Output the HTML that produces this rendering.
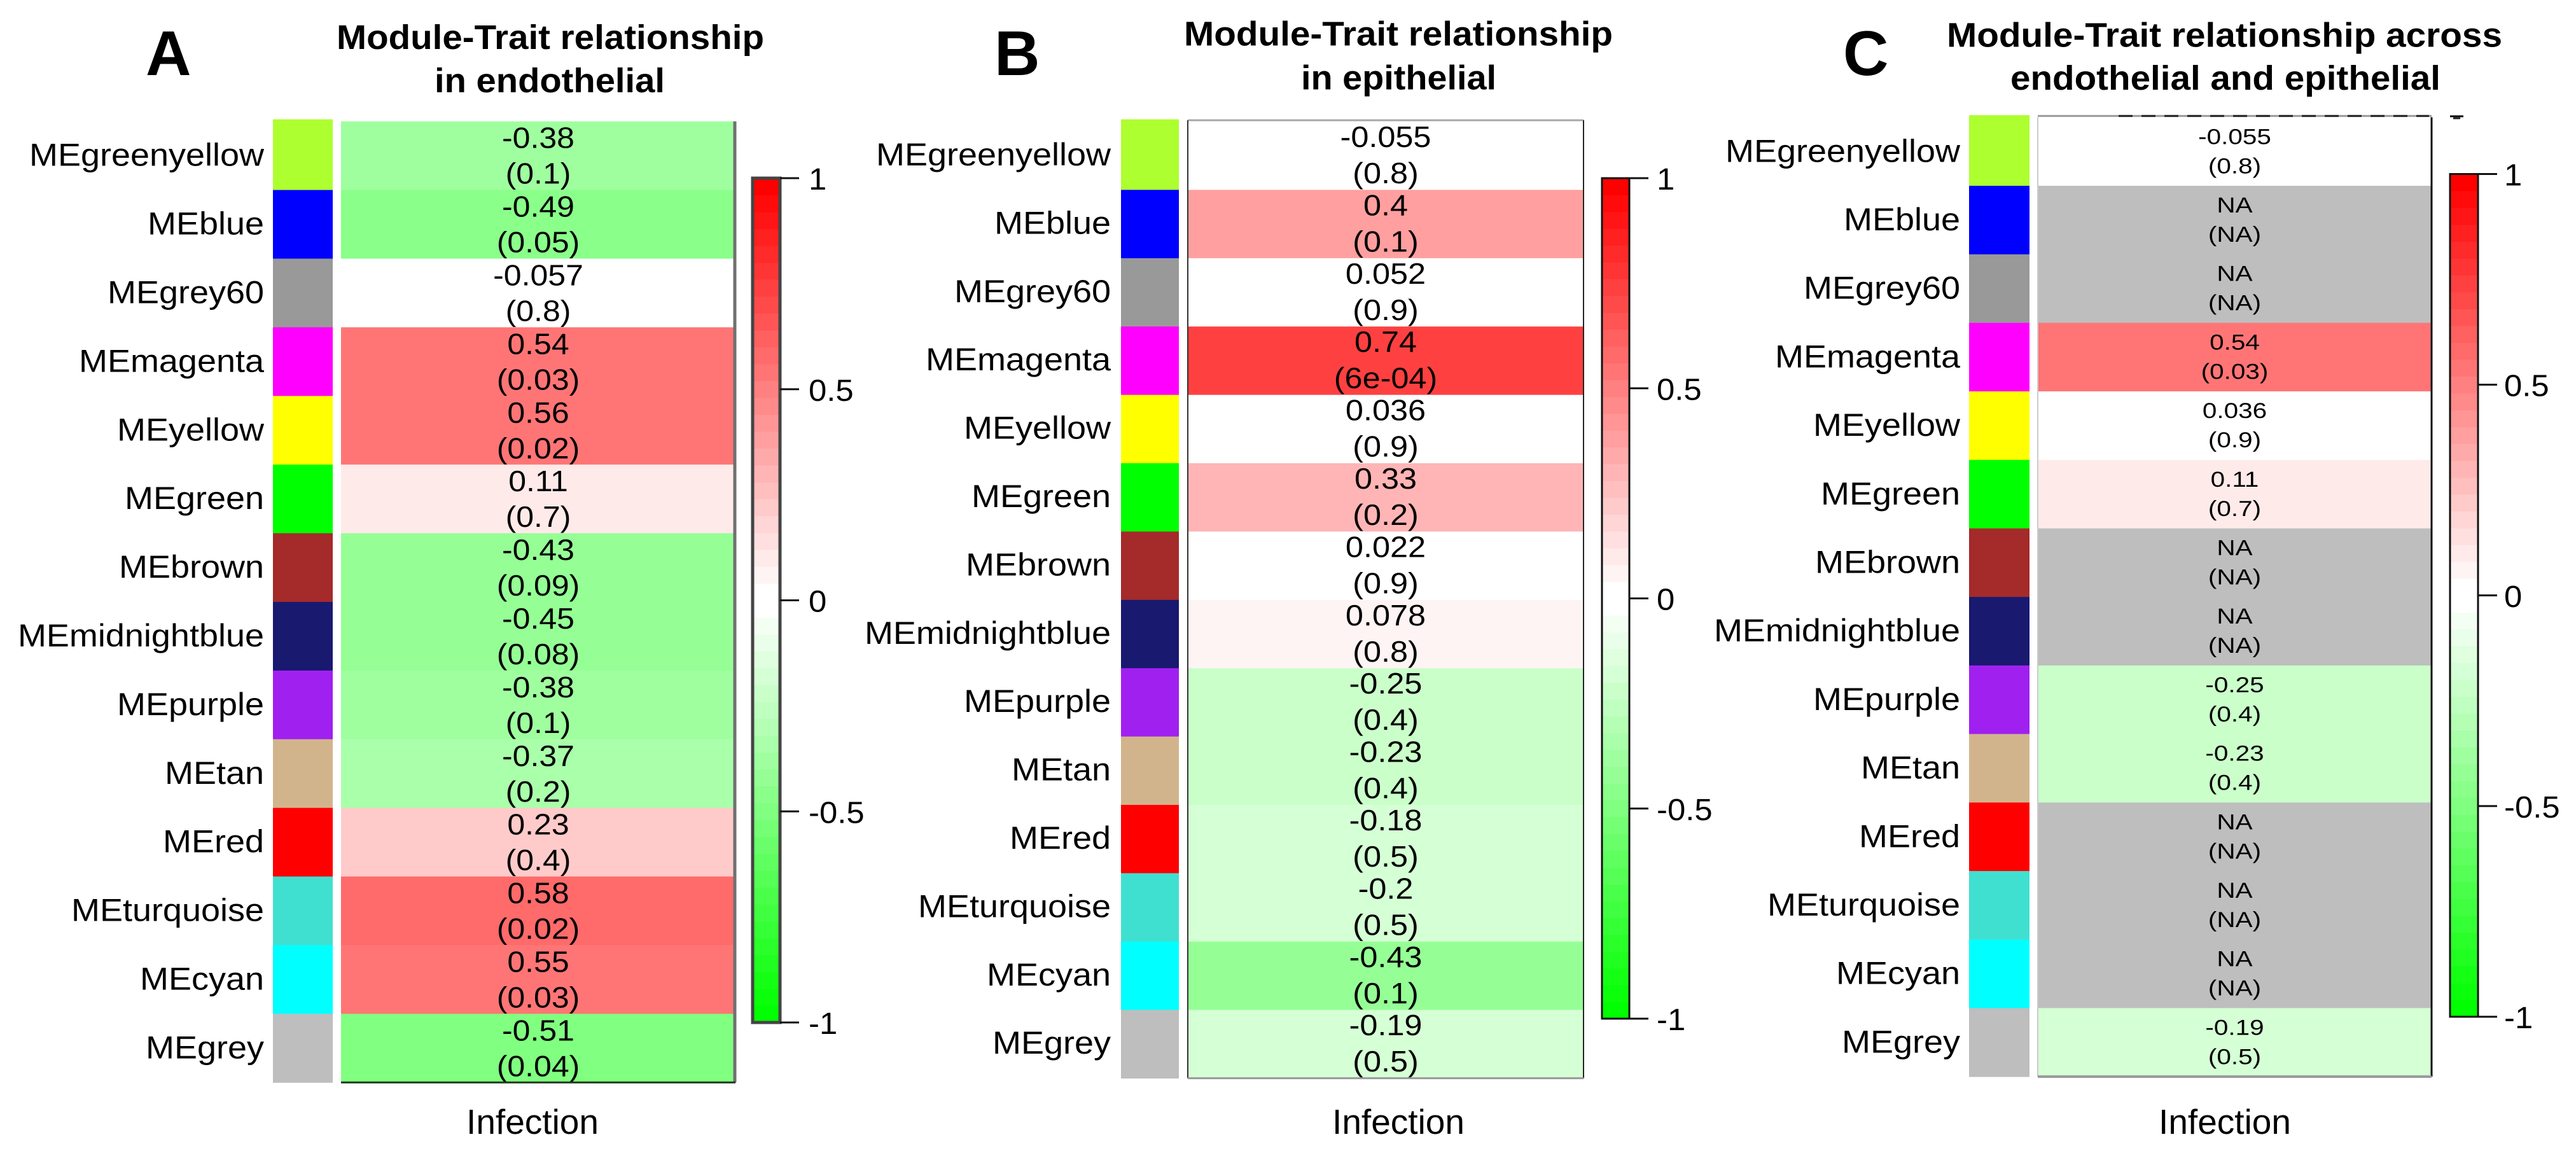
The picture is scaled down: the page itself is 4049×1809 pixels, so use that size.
<!DOCTYPE html>
<html lang="en">
<head>
<meta charset="utf-8">
<title>Module-Trait relationship heatmaps</title>
<style>
html,body{margin:0;padding:0;background:#fff;width:4049px;height:1809px;overflow:hidden}
svg{display:block}
text{font-family:"Liberation Sans",Arial,sans-serif;fill:#000}
</style>
</head>
<body>
<svg id="figure" xmlns="http://www.w3.org/2000/svg" width="4049" height="1809" viewBox="0 0 4049 1809">
<rect x="0" y="0" width="4049" height="1809" fill="#ffffff"/>
</svg>
<script>
// ---- data ----
const moduleNames = ['MEgreenyellow','MEblue','MEgrey60','MEmagenta','MEyellow','MEgreen','MEbrown','MEmidnightblue','MEpurple','MEtan','MEred','MEturquoise','MEcyan','MEgrey'];
const moduleColors = ['#ADFF2F','#0000FF','#999999','#FF00FF','#FFFF00','#00FF00','#A52A2A','#191970','#A020F0','#D2B48C','#FF0000','#40E0D0','#00FFFF','#BEBEBE'];
const endothelialValues = [-0.38,-0.49,-0.057,0.54,0.56,0.11,-0.43,-0.45,-0.38,-0.37,0.23,0.58,0.55,-0.51];
const endothelialPvalues = ['0.1','0.05','0.8','0.03','0.02','0.7','0.09','0.08','0.1','0.2','0.4','0.02','0.03','0.04'];
const epithelialValues = [-0.055,0.4,0.052,0.74,0.036,0.33,0.022,0.078,-0.25,-0.23,-0.18,-0.2,-0.43,-0.19];
const epithelialPvalues = ['0.8','0.1','0.9','6e-04','0.9','0.2','0.9','0.8','0.4','0.4','0.5','0.5','0.1','0.5'];
const acrossValues = [-0.055,null,null,0.54,0.036,0.11,null,null,-0.25,-0.23,null,null,null,-0.19];
const acrossPvalues = ['0.8','NA','NA','0.03','0.9','0.7','NA','NA','0.4','0.4','NA','NA','NA','0.5'];
const colorbarTicks = [1,0.5,0,-0.5,-1];
const traitName = 'Infection';
const colorBinCount = 50;

// ---- layout ----
const panelLayouts = [
  {id:'a', letter:'A', letterX:229, letterY:118,
   titles:[{s:'Module-Trait relationship',x:529,y:77,w:672},{s:'in endothelial',x:683,y:145,w:362}],
   values:endothelialValues, pvalues:endothelialPvalues,
   rowTop:190.7, rowStep:107.9, colX:429, colW:94, colTop:187.5, heatX:536, heatW:620,
   labelRight:415, labelSx:1.08, labelDy:70,
   textFs:46, textSx:1.087, line1:42, line2:98,
   barX:1183, barW:43, barTop:280, barBottom:1607, barStroke:'#444444', barStrokeW:5, tickLen:30, tickLabelX:1271,
   traitX:837, frame:'a'},
  {id:'b', letter:'B', letterX:1563, letterY:118,
   titles:[{s:'Module-Trait relationship',x:1861,y:71.4,w:674},{s:'in epithelial',x:2045,y:140.6,w:307}],
   values:epithelialValues, pvalues:epithelialPvalues,
   rowTop:191, rowStep:107.4, colX:1762, colW:91, colTop:187.5, heatX:1867, heatW:622,
   labelRight:1746, labelSx:1.08, labelDy:69,
   textFs:46, textSx:1.096, line1:40, line2:97,
   barX:2518, barW:43, barTop:280, barBottom:1601, barStroke:'#111111', barStrokeW:3, tickLen:30, tickLabelX:2604,
   traitX:2198, frame:'b'},
  {id:'c', letter:'C', letterX:2897, letterY:118,
   titles:[{s:'Module-Trait relationship across',x:3060,y:73.5,w:873},{s:'endothelial and epithelial',x:3160,y:141,w:676}],
   values:acrossValues, pvalues:acrossPvalues,
   rowTop:184.3, rowStep:107.7, colX:3095, colW:95, colTop:181, heatX:3203, heatW:619,
   labelRight:3081, labelSx:1.08, labelDy:70,
   textFs:34, textSx:1.19, line1:42, line2:88,
   barX:3851, barW:44, barTop:273.5, barBottom:1598, barStroke:'#111111', barStrokeW:3, tickLen:30, tickLabelX:3936,
   traitX:3497, frame:'c'}
];

// ---- helpers ----
const SVGNS = 'http://www.w3.org/2000/svg';
const figure = document.getElementById('figure');

function addRect(parent, x, y, w, h, fill) {
  const el = document.createElementNS(SVGNS, 'rect');
  el.setAttribute('x', x);
  el.setAttribute('y', y);
  el.setAttribute('width', w);
  el.setAttribute('height', h);
  el.setAttribute('fill', fill);
  parent.appendChild(el);
  return el;
}
function addLine(parent, x1, y1, x2, y2, stroke, width) {
  const el = document.createElementNS(SVGNS, 'line');
  el.setAttribute('x1', x1);
  el.setAttribute('y1', y1);
  el.setAttribute('x2', x2);
  el.setAttribute('y2', y2);
  el.setAttribute('stroke', stroke);
  el.setAttribute('stroke-width', width);
  parent.appendChild(el);
  return el;
}
function addText(parent, s, x, y, fs, anchor, sx, bold) {
  const el = document.createElementNS(SVGNS, 'text');
  el.setAttribute('transform', 'translate(' + x + ',' + y + ') scale(' + sx + ',1)');
  el.setAttribute('font-size', fs);
  el.setAttribute('text-anchor', anchor);
  if (bold) el.setAttribute('font-weight', 'bold');
  el.textContent = s;
  parent.appendChild(el);
  return el;
}
function addGroup(parent) {
  const el = document.createElementNS(SVGNS, 'g');
  parent.appendChild(el);
  return el;
}

// greenWhiteRed colour scale with quantised bins; null values render as NA grey
function valueColor(v) {
  if (v === null) return '#BEBEBE';
  const mag = Math.abs(v);
  const bin = Math.min(25, Math.floor((mag + 0.02) / 0.04 + 1e-6));
  const level = Math.max(0, bin - 1) / 24;
  const c = Math.round(255 * (1 - level));
  return v >= 0 ? 'rgb(255,' + c + ',' + c + ')' : 'rgb(' + c + ',255,' + c + ')';
}

// ---- drawing ----
panelLayouts.forEach(function (p) {
  const rowY = function (i) { return p.rowTop + i * p.rowStep; };
  const barY = function (v) { return p.barBottom - (v + 1) / 2 * (p.barBottom - p.barTop); };
  const panel = addGroup(figure);
  
  

  const letter = addText(panel, p.letter, p.letterX, p.letterY, 99, 'start', 1, true);
  
  

  p.titles.forEach(function (t) {
    const title = addText(panel, t.s, t.x, t.y, 54, 'start', 1, true);
    title.setAttribute('transform', 'translate(' + t.x + ',' + t.y + ')');
    title.setAttribute('textLength', t.w);
    title.setAttribute('lengthAdjust', 'spacingAndGlyphs');
    
    
  });

  moduleNames.forEach(function (name, i) {
    const top = rowY(i);
    const swatchTop = i === 0 ? p.colTop : top;
    const swatch = addRect(panel, p.colX, swatchTop, p.colW, top + p.rowStep - swatchTop + 0.5, moduleColors[i]);
    
    

    const label = addText(panel, name, p.labelRight, top + p.labelDy, 50, 'end', p.labelSx, false);
    
    

    const v = p.values[i];
    const cell = addRect(panel, p.heatX, top, p.heatW, p.rowStep + 0.5, valueColor(v));
    
    

    const cx = p.heatX + p.heatW / 2;
    const valueText = addText(panel, v === null ? 'NA' : String(v), cx, top + p.line1, p.textFs, 'middle', p.textSx, false);
    
    

    const pText = addText(panel, '(' + p.pvalues[i] + ')', cx, top + p.line2, p.textFs, 'middle', p.textSx, false);
    
    
  });

  // heatmap frame
  const heatBottom = rowY(moduleNames.length);
  const frame = addGroup(panel);
  
  
  const right = p.heatX + p.heatW;
  if (p.frame === 'a') {
    addLine(frame, right - 1, p.rowTop, right - 1, heatBottom, '#707070', 5);
    addLine(frame, p.heatX, heatBottom, right, heatBottom, '#1c3a1c', 3);
  } else if (p.frame === 'b') {
    addLine(frame, p.heatX, p.rowTop - 2, right, p.rowTop - 2, '#a8a8a8', 3);
    addLine(frame, p.heatX, p.rowTop - 2, p.heatX, heatBottom, '#333333', 2);
    addLine(frame, right, p.rowTop - 2, right, heatBottom, '#222222', 2);
    addLine(frame, p.heatX, heatBottom, right, heatBottom, '#999999', 3);
  } else {
    addLine(frame, p.heatX, p.rowTop - 2, right, p.rowTop - 2, '#999999', 3);
    addLine(frame, p.heatX, p.rowTop, p.heatX, heatBottom, '#cccccc', 2);
    addLine(frame, right, p.rowTop, right, heatBottom, '#111111', 3);
    addLine(frame, p.heatX, heatBottom, right, heatBottom, '#999999', 4);
    const clip = addLine(frame, p.heatX + 127, p.rowTop - 2, right - 4, p.rowTop - 2, '#222222', 3);
    clip.setAttribute('stroke-dasharray', '22 14');
    const clipped = addGroup(panel);
    
    
    addRect(clipped, p.barX, p.rowTop - 3, 21, 3, '#111111');
    addRect(clipped, p.barX + 5, p.rowTop, 11, 3, '#222222');
  }

  // colour bar
  const bar = addGroup(panel);
  
  
  for (let b = 0; b < colorBinCount; b++) {
    const lo = -1 + b * 2 / colorBinCount;
    const hi = lo + 2 / colorBinCount;
    const seg = addRect(bar, p.barX, barY(hi), p.barW, barY(lo) - barY(hi) + 0.5, valueColor((lo + hi) / 2));
    
    
  }
  const outline = addRect(bar, p.barX, p.barTop, p.barW, p.barBottom - p.barTop, 'none');
  outline.setAttribute('stroke', p.barStroke);
  outline.setAttribute('stroke-width', p.barStrokeW);
  
  

  colorbarTicks.forEach(function (t) {
    const y = barY(t);
    const tick = addLine(bar, p.barX + p.barW, y, p.barX + p.barW + p.tickLen, y, '#111111', 3);
    
    
    const tl = addText(bar, String(t), p.tickLabelX, y + 18, 48, 'start', 1.06, false);
    
    
  });

  const trait = addText(panel, traitName, p.traitX, 1782, 55, 'middle', 1, false);
  
  
});
</script>
</body>
</html>
